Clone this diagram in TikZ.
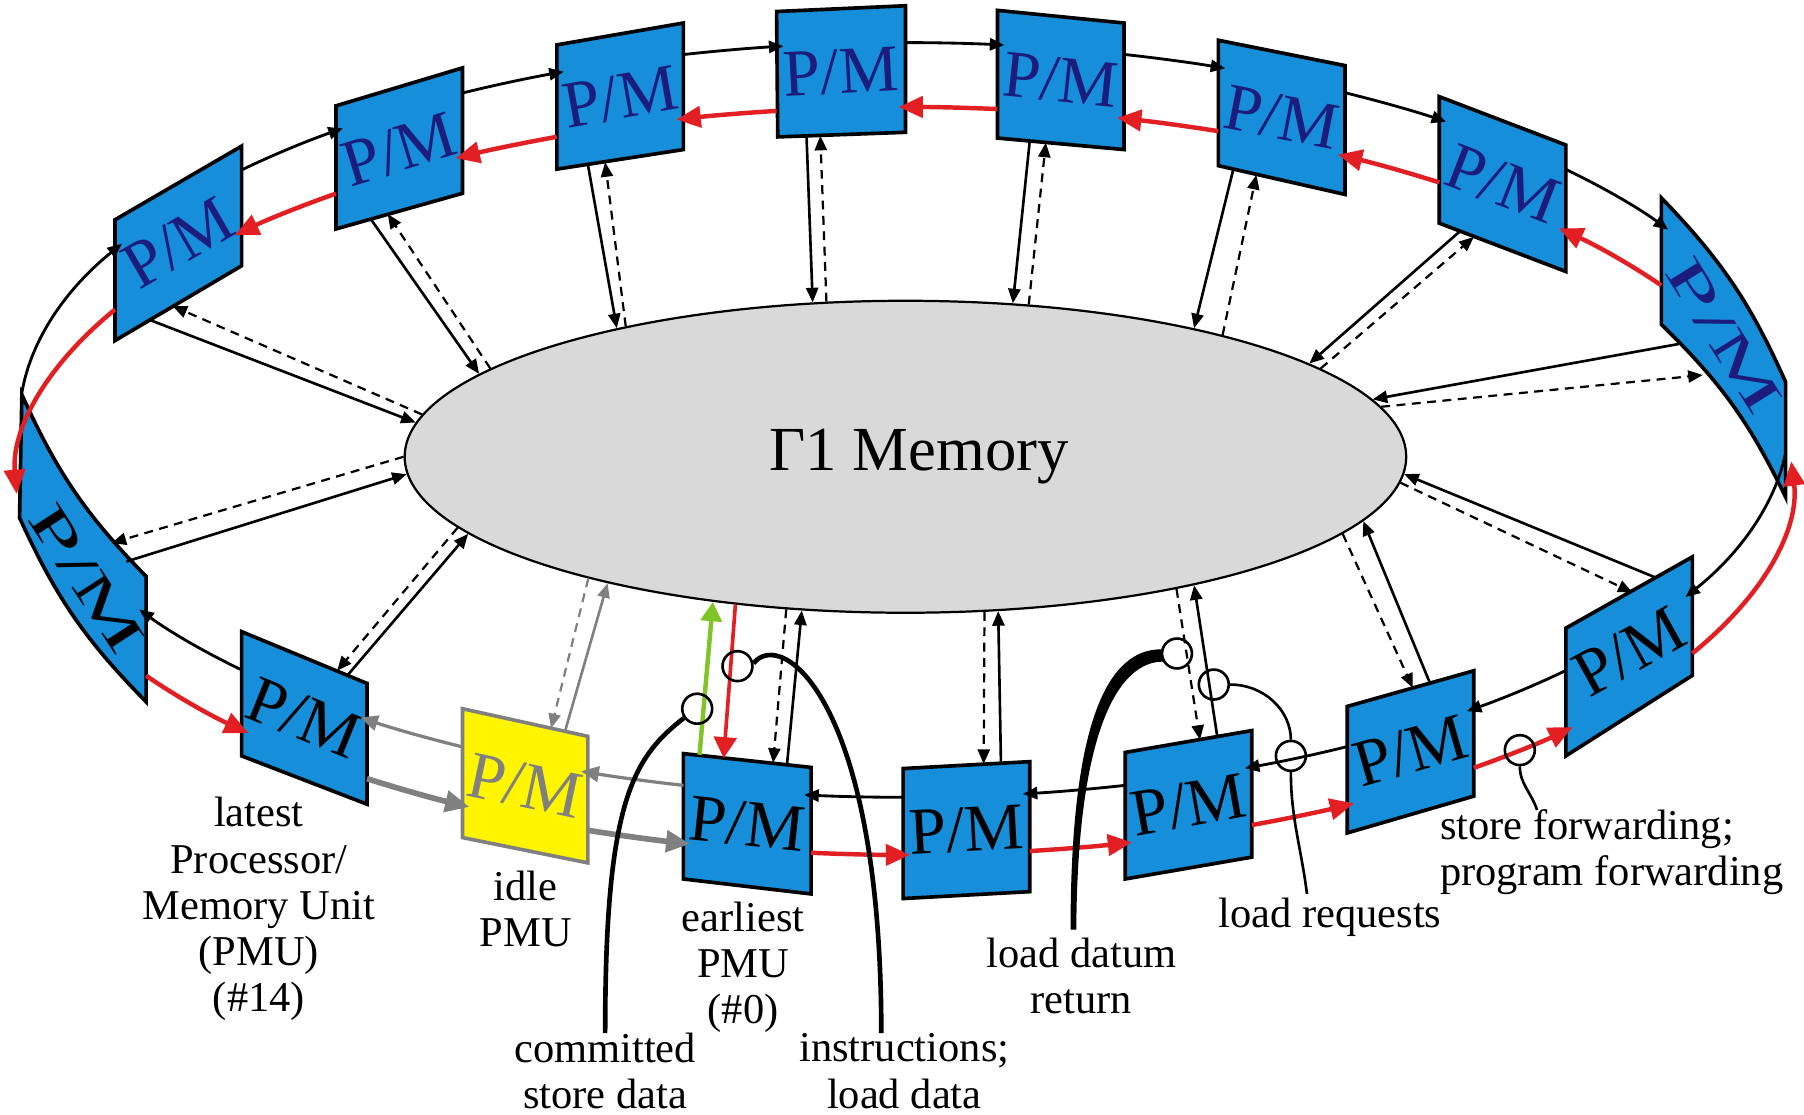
\documentclass[tikz,border=0pt]{standalone}
\usepackage{fontspec}
\setmainfont{Liberation Serif}
\usetikzlibrary{positioning, arrows.meta, calc, shapes.geometric}

\definecolor{pmblue}{RGB}{22,142,218}
\definecolor{pmnavy}{RGB}{28,28,125}
\definecolor{ringred}{RGB}{226,32,36}
\definecolor{storegreen}{RGB}{128,196,40}
\definecolor{memgray}{RGB}{217,217,217}
\definecolor{idleyellow}{RGB}{255,245,0}
\definecolor{idlegray}{RGB}{128,128,128}

% angle on the ring for a given x (black = upper rim, red = lower rim)
\pgfmathdeclarefunction{ktop}{1}{\pgfmathparse{-acos((#1-786)/769)}}
\pgfmathdeclarefunction{kbot}{1}{\pgfmathparse{acos((#1-786)/769)}}
\pgfmathdeclarefunction{rtop}{1}{\pgfmathparse{-acos((#1-786)/772)}}
\pgfmathdeclarefunction{rbot}{1}{\pgfmathparse{acos((#1-786)/772)}}

\newcommand{\ringarc}[6]{%
  \draw[#1] ({786+#3*cos(#5)},{#2+#4*sin(#5)})
    arc[start angle={#5}, end angle={#6}, x radius=#3, y radius=#4];}
\newcommand{\blkseg}[3][]{\ringarc{black ring,#1}{365}{769}{328}{#2}{#3}}
\newcommand{\redseg}[3][]{\ringarc{red ring,#1}{418}{772}{325}{#2}{#3}}

% PMU panel: name, corners TL TR BR BL, panel style, text options
\newcommand{\pmu}[7]{%
  \draw[#6] (#2) -- (#3) -- (#4) -- (#5) -- cycle;
  \node[pmtext, #7] (#1) at ($(#2)!0.5!(#4)$) {P/M};}

\begin{document}
\begin{tikzpicture}[
            x=0.01cm, y=-0.01cm,
            >={Triangle[length=3.6pt,width=3pt]},
            pmbox/.style={draw=black, line width=0.9pt, fill=pmblue},
            idlebox/.style={draw=idlegray, line width=0.9pt, fill=idleyellow},
            pmtext/.style={font=\fontsize{16.5}{18}\selectfont, inner sep=0pt},
            memory/.style={ellipse, draw=black, line width=0.55pt, fill=memgray, minimum width=8.7cm, minimum height=2.71cm, inner sep=0pt, font=\fontsize{15.5}{18}\selectfont},
            black ring/.style={draw=black, line width=0.7pt, ->},
            red ring/.style={draw=ringred, line width=1.1pt, -{Triangle[length=6pt,width=5.2pt]}},
            idle thin/.style={draw=idlegray, line width=0.8pt, -{Triangle[length=4.4pt,width=3.8pt]}},
            idle thick/.style={draw=idlegray, line width=1.4pt, -{Triangle[length=6pt,width=5.2pt]}},
            link/.style={draw=black, line width=0.65pt, ->},
            dlink/.style={link, line width=0.55pt, dash pattern=on 2.2pt off 1.6pt},
            green link/.style={draw=storegreen, line width=1.1pt, -{Triangle[length=4.8pt,width=5.2pt]}},
            red link/.style={draw=ringred, line width=0.9pt, -{Triangle[length=5.2pt,width=5.6pt]}},
            tap/.style={circle, draw=black, line width=0.65pt, minimum size=0.26cm, inner sep=0pt},
            leader/.style={line width=1.15pt},
            thin leader/.style={line width=0.65pt},
            lbl/.style={align=center, font=\fontsize{10.5}{11.4}\selectfont, inner sep=0pt}
        ]
        \useasboundingbox (0,0) rectangle (1568,969);

        % ======================================
        % Memory
        % ======================================
        \node[memory] (mem) at (787,397) {\hspace*{0.24cm}Γ1 Memory};

        % ======================================
        % PMU panels
        % ======================================
        \pmu{p12}{100,191}{210,127}{210,231}{100,296}{pmbox}{text=pmnavy, rotate=30}
        \pmu{p11}{292,92}{402,59}{402,168}{292,199}{pmbox}{text=pmnavy, rotate=17}
        \pmu{p10}{484,39}{594,20}{594,130}{484,147}{pmbox}{text=pmnavy, rotate=10}
        \pmu{p9}{675,10}{787,5}{787,115}{676,119}{pmbox}{text=pmnavy, rotate=3}
        \pmu{p8}{867,9}{977,20}{977,130}{867,120}{pmbox}{text=pmnavy, rotate=-6}
        \pmu{p7}{1059,35}{1169,57}{1169,169}{1059,144}{pmbox}{text=pmnavy, rotate=-11}
        \pmu{p6}{1251,84}{1361,126}{1361,236}{1251,194}{pmbox}{text=pmnavy, rotate=-21}
        \pmu{p4}{1361,546}{1471,484}{1471,587}{1361,657}{pmbox}{rotate=29}
        \pmu{p3}{1171,614}{1281,583}{1281,692}{1171,724}{pmbox}{rotate=16}
        \pmu{p2}{978,654}{1088,635}{1088,745}{978,764}{pmbox}{rotate=10}
        \pmu{p1}{785,668}{895,662}{895,775}{785,781}{pmbox}{rotate=3}
        \pmu{p0}{594,655}{705,667}{705,777}{594,764}{pmbox}{rotate=-6}
        \pmu{p15}{402,616}{511,640}{511,750}{402,728}{idlebox}{text=idlegray, rotate=-12}
        \pmu{p14}{210,549}{319,594}{319,699}{210,657}{pmbox}{rotate=-22}

        % side panels, seen edge-on
        \draw[pmbox] (19,343) to[bend right=10] (127,501) -- (127,610) to[bend left=10] (17,450) -- cycle;
        \node[pmtext, rotate=-57, xscale=1.45, yscale=0.8] (p13) at (75,503) {P/M};
        \draw[pmbox] (1444,172) to[bend left=10] (1552,332) -- (1552,432) to[bend right=10] (1444,282) -- cycle;
        \node[pmtext, text=pmnavy, rotate=-58, xscale=1.5, yscale=0.8] (p5) at (1498,292) {P/M};

        % ======================================
        % Upper rim (clockwise)
        % ======================================
        \blkseg{ktop(19)}{ktop(106)}
        \blkseg{ktop(210)}{ktop(298)}
        \blkseg{ktop(402)}{ktop(490)}
        \blkseg{ktop(594)}{ktop(681)}
        \blkseg{ktop(787)}{ktop(873)}
        \blkseg{ktop(977)}{ktop(1065)}
        \blkseg{ktop(1169)}{ktop(1257)}
        \blkseg{ktop(1361)}{ktop(1450)}
        \blkseg{kbot(1552)}{kbot(1465)}
        \blkseg{kbot(1361)}{kbot(1275)}
        \blkseg{kbot(1171)}{kbot(1082)}
        \blkseg{kbot(978)}{kbot(889)}
        \blkseg{kbot(785)}{kbot(699)}
        \blkseg[idle thin]{kbot(594)}{kbot(505)}
        \blkseg[idle thin]{kbot(402)}{kbot(313)}
        \blkseg{kbot(210)}{kbot(121)}

        % ======================================
        % Lower rim (counter-clockwise)
        % ======================================
        \redseg{rbot(127)}{rbot(216)}
        \redseg[idle thick]{rbot(319)}{rbot(408)}
        \redseg[idle thick]{rbot(511)}{rbot(600)}
        \redseg{rbot(705)}{rbot(791)}
        \redseg{rbot(895)}{rbot(984)}
        \redseg{rbot(1088)}{rbot(1177)}
        \redseg{rbot(1281)}{rbot(1367)}
        \redseg{rbot(1471)}{-3}
        \redseg{rtop(1444)}{rtop(1355)}
        \redseg{rtop(1251)}{rtop(1163)}
        \redseg{rtop(1059)}{rtop(971)}
        \redseg{rtop(867)}{rtop(781)}
        \redseg{rtop(675)}{rtop(588)}
        \redseg{rtop(484)}{rtop(396)}
        \redseg{rtop(292)}{rtop(204)}
        \redseg{rtop(100)}{-182}

        % ======================================
        % PMU <-> memory
        % ======================================
        \foreach \n/\bx/\by/\ma/\cx/\cy/\mb in {
            13/110/488/182/97/472/180,
            12/130/278/176/150/266/175,
            11/322/190/169/337/186/168,
            10/511/143/156/526/141/155,
            9/701/118/121/713/118/117,
            8/895/123/55/909/124/51,
            7/1072/147/24/1092/152/21,
            6/1269/201/13/1281/206/12,
            5/1459/299/7/1480/326/6,
            4/1439/502/358/1419/515/357,
            3/1243/594/352/1228/598/350,
            2/1058/640/336/1043/643/334,
            1/870/663/301/855/664/297,
            0/684/665/236/672/663/232,
            14/302/587/190/293/583/189}
        {
            \coordinate (s\n) at (\bx,\by);
            \coordinate (d\n) at (\cx,\cy);
            \draw[link] (s\n) -- (mem.\ma);
            \draw[dlink] (mem.\mb) -- (d\n);
        }

        % idle PMU
        \coordinate (s15) at (491,636);
        \coordinate (d15) at (479,633);
        \draw[link, draw=idlegray] (s15) -- (mem.203);
        \draw[dlink, draw=idlegray] (mem.201) -- (d15);

        % earliest PMU
        \coordinate (g0) at (608,656);
        \coordinate (r0) at (629,659);
        \draw[green link] (g0) -- (mem.217);
        \draw[red link] (mem.221) -- (r0);

        % ======================================
        % Taps and their labels
        % ======================================
        \node[tap] (c1) at (606,616) {};
        \node[tap] (c2) at (641,579) {};
        \node[tap] (c3) at (1023,568) {};
        \node[tap] (c4) at (1055,595) {};
        \node[tap] (c5) at (1122,657) {};
        \node[tap] (c6) at (1321,652) {};

        \node[lbl] (lat) at (225,790) {latest\\Processor/\\Memory Unit\\(PMU)\\(\#14)};
        \node[lbl] (idl) at (457,790) {idle\\PMU};
        \node[lbl] (ear) at (646,841) {earliest\\PMU\\(\#0)};
        \node[lbl] (csd) at (526,931) {committed\\store data};
        \node[lbl] (ild) at (786,931) {instructions;\\load data};
        \node[lbl] (ldr) at (940,848) {load datum\\return};
        \node[lbl] (lrq) at (1156,797) {load requests};
        \node[lbl, anchor=west, align=left] (sfw) at (1251,741) {store forwarding;\\program forwarding};

        \coordinate (csdend) at (526,898);
        \coordinate (ildend) at (766,898);
        \coordinate (ldrend) at (933,808);
        \coordinate (lrqend) at (1136,777);
        \coordinate (sfwend) at (1336,704);

        \draw[leader] (c1.215) .. controls +(-45,35) and +(0,-200) .. (csdend);
        \draw[leader] (c2.10) .. controls (680,545) and (766,610) .. (ildend);
        \fill (c3.165) .. controls +(-45,0) and +(0,-185) .. ($(ldrend)+(-2.5,0)$)
            -- ($(ldrend)+(2.5,0)$) .. controls +(1,-175) and +(-38,0) .. (c3.210) -- cycle;
        \draw[thin leader] (c4.east) .. controls +(30,0) and +(0,-25) .. (c5.north);
        \draw[thin leader] (c5.south) .. controls +(0,40) and +(-5,-40) .. (lrqend);
        \draw[thin leader] (c6.south) .. controls +(0,15) and +(-5,-15) .. (sfwend);

    \end{tikzpicture}
\end{document}
